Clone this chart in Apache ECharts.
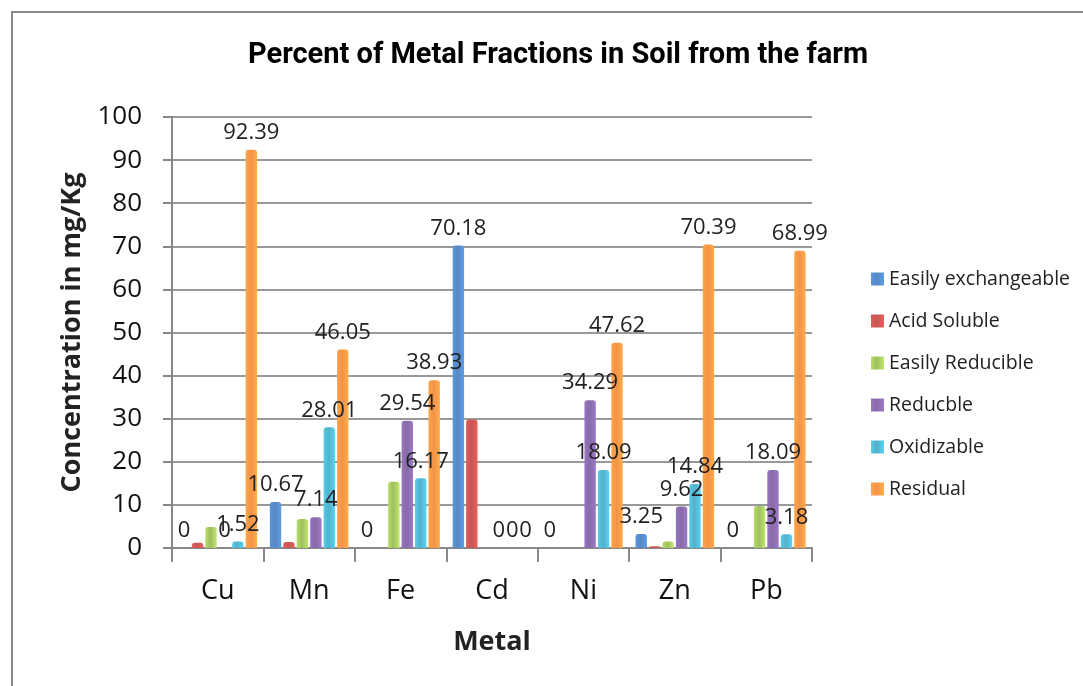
<!DOCTYPE html>
<html><head><meta charset="utf-8">
<script src="https://cdn.jsdelivr.net/npm/echarts@6/dist/echarts.min.js"></script>
<style>html,body{margin:0;padding:0;background:#fff}#c{width:1083px;height:686px}</style>
</head><body><div id="c"></div>
<script>
const categories = ['Cu','Mn','Fe','Cd','Ni','Zn','Pb'];
const seriesNames = ['Easily exchangeable','Acid Soluble','Easily Reducible','Reducble','Oxidizable','Residual'];
const easilyExchangeable = [0, 10.67, 0, 70.18, 0, 3.25, 0];
const acidSoluble = [1.2, 1.4, 0, 29.82, 0, 0.4, 0];
const easilyReducible = [4.89, 6.73, 15.36, 0, 0, 1.5, 9.74];
const reducble = [0, 7.14, 29.54, 0, 34.29, 9.62, 18.09];
const oxidizable = [1.52, 28.01, 16.17, 0, 18.09, 14.84, 3.18];
const residual = [92.39, 46.05, 38.93, 0, 47.62, 70.39, 68.99];
const showLabels = [true, false, false, true, true, true];
const colors = ['#4A7EBB','#BE4B48','#98B954','#7D60A0','#46AAC5','#F38A3A'];
const allData = [easilyExchangeable, acidSoluble, easilyReducible, reducble, oxidizable, residual];

const font = 'Open Sans, Liberation Sans, sans-serif';
const chart = echarts.init(document.getElementById('c'));
chart.setOption({
  backgroundColor: '#fff',
  animation: false,
  graphic: [{type:'rect', shape:{x:12,y:12,width:1090,height:700}, style:{fill:'none', stroke:'#888', lineWidth:2}, silent:true}],
  title: {text:'Percent of Metal Fractions in Soil from the farm', left:553, top:36, textAlign:'center',
    textStyle:{fontFamily:'Roboto, Liberation Sans, sans-serif', fontSize:29, fontWeight:'bold', color:'#000'}},
  legend: {orient:'vertical', left:866, top:264, itemGap:22, itemWidth:13, itemHeight:13, icon:'rect',
    textStyle:{fontFamily:font, fontSize:19.5, color:'#222', padding:[0,0,0,0]}, data: seriesNames},
  grid: {left:172, right:271, top:117, bottom:138},
  xAxis: {type:'category', data:categories, name:'Metal', nameLocation:'middle', nameGap:81,
    nameTextStyle:{fontFamily:font, fontSize:27, fontWeight:'bold', color:'#222'},
    axisLine:{lineStyle:{color:'#888', width:2}}, axisTick:{show:true, length:14, lineStyle:{color:'#888', width:2}},
    axisLabel:{fontFamily:font, fontSize:27, color:'#111', margin:30}},
  yAxis: {type:'value', min:0, max:100, interval:10, name:'Concentration in mg/Kg', nameLocation:'middle', nameGap:86,
    nameTextStyle:{fontFamily:font, fontSize:27, fontWeight:'bold', color:'#222'},
    axisLine:{show:true, lineStyle:{color:'#888', width:2}}, axisTick:{show:true, length:9, lineStyle:{color:'#888', width:2}},
    axisLabel:{fontFamily:font, fontSize:26, color:'#111', margin:30},
    splitLine:{lineStyle:{color:'#999', width:2}}},
  series: seriesNames.map((n,i)=>({
    name:n, type:'bar', data:allData[i], barGap:'18%', barCategoryGap:'14%',
    itemStyle:{color: new echarts.graphic.LinearGradient(0,0,1,0,[
      {offset:0,color:echarts.color.lift(colors[i],-0.2)},
      {offset:0.45,color:echarts.color.lift(colors[i],0.08)},
      {offset:1,color:echarts.color.lift(colors[i],-0.25)}]), borderRadius:[3,3,0,0]},
    label:{show:showLabels[i], position:'top', distance:6, fontFamily:font, fontSize:22, color:'#222'}
  }))
});
</script></body></html>
